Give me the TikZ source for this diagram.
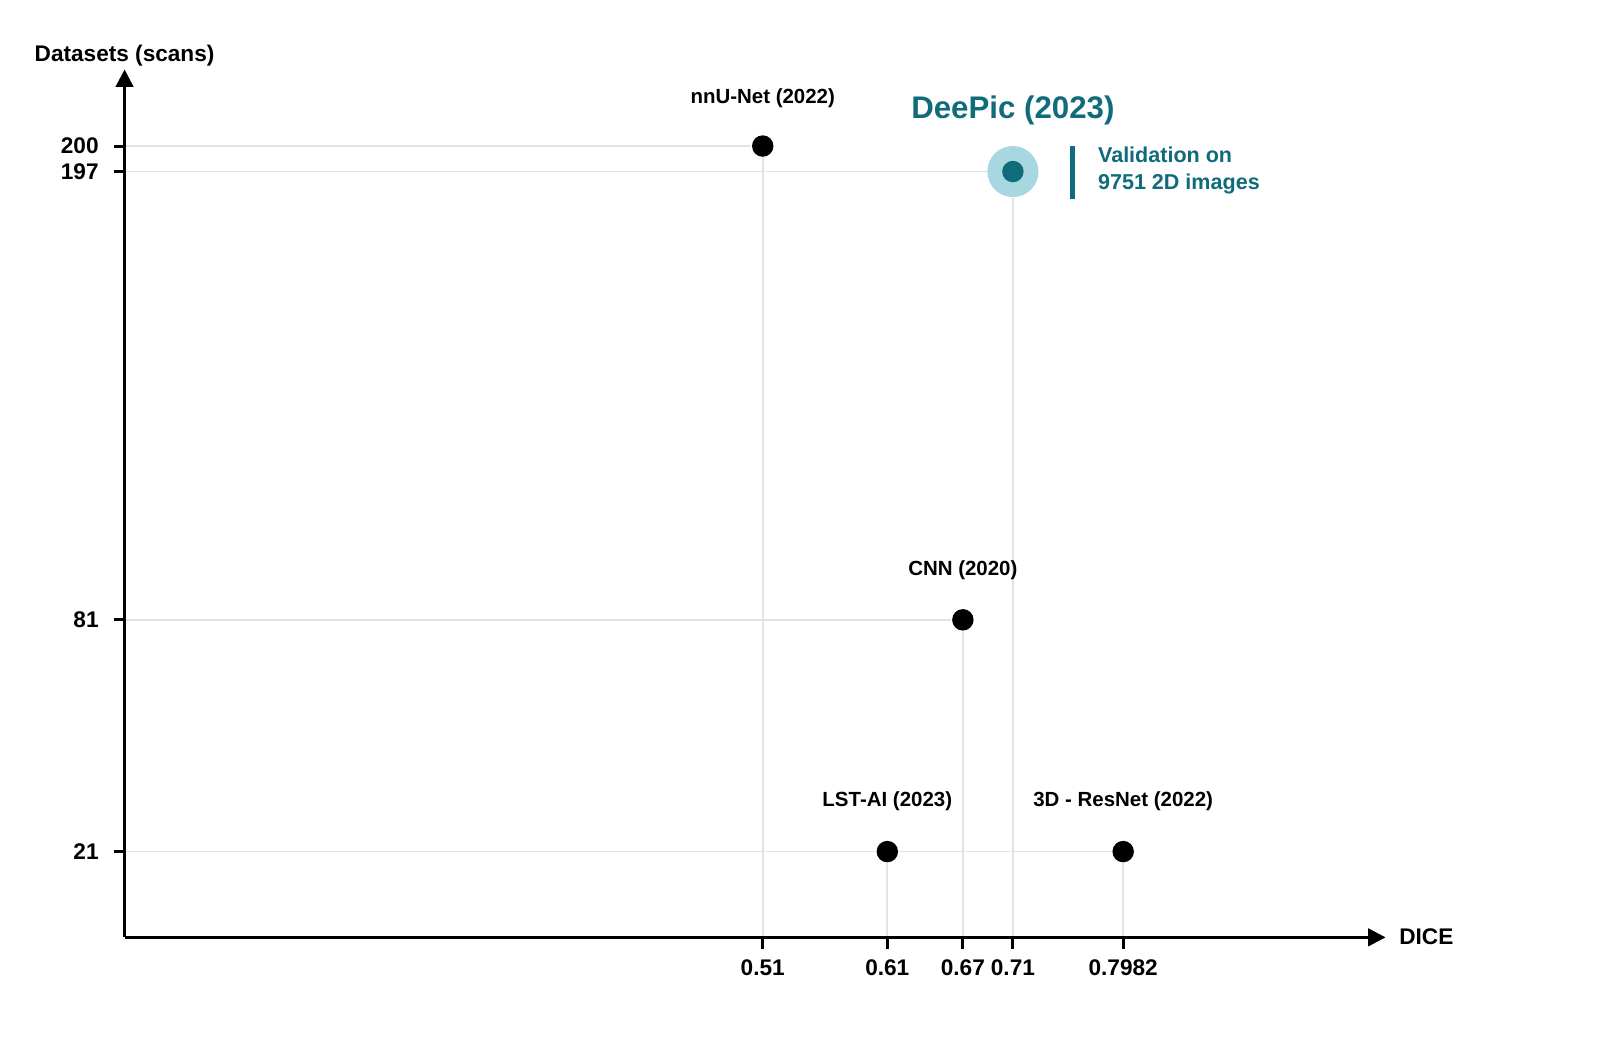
\documentclass[tikz,border=0pt]{standalone}
\usepackage{fontspec}
\setmainfont{Liberation Sans}
\usetikzlibrary{arrows.meta}
\definecolor{deep}{HTML}{106B7B}
\definecolor{deeplight}{HTML}{A7D7E0}
\definecolor{gridgray}{HTML}{E3E3E3}
\tikzset{
  axis/.style={line width=0.85pt, -{Triangle[length=0.17cm, width=0.17cm]}},
  tick/.style={line width=0.85pt},
  gridline/.style={gridgray, line width=0.5pt},
  dot/.style={circle, inner sep=0pt, minimum size=0.21cm, fill},
  ptlabel/.style={font=\bfseries\fontsize{5.7pt}{6.8pt}\selectfont},
  axlabel/.style={font=\bfseries\fontsize{6.3pt}{7.5pt}\selectfont}
}
\begin{document}
\begin{tikzpicture}[x=0.01cm, y=-0.01cm]
\useasboundingbox (0,0) rectangle (1567,1025.4);
% axes
\coordinate (org) at (122,918);
\coordinate (ytop) at (122,68);
\coordinate (xend) at (1357,918);
\coordinate (y0) at (122,143);
\coordinate (y1) at (122,168);
\coordinate (y2) at (122,607);
\coordinate (y3) at (122,834);
\coordinate (x0) at (747,918);
\coordinate (x1) at (869,918);
\coordinate (x2) at (943,918);
\coordinate (x3) at (992,918);
\coordinate (x4) at (1100,918);
% points
\node[circle, inner sep=0pt, minimum size=0.5cm, fill=deeplight] (tid1) at (992,168){};
\node[dot] (tid0) at (747,143){};
\node[dot, deep] (tid1c) at (992,168){};
\node[dot] (tid2) at (943,607){};
\node[dot] (tid3) at (869,834){};
\node[dot] (tid4) at (1100,834){};
\draw[gridline](tid0) -- (y0);
\draw[gridline](tid0) -- (x0);
\draw[gridline](tid1) -- (y1);
\draw[gridline](tid1) -- (x3);
\draw[gridline](tid2) -- (y2);
\draw[gridline](tid2) -- (x2);
\draw[gridline](tid3) -- (y3);
\draw[gridline](tid3) -- (x1);
\draw[gridline](tid4) -- (tid3);
\draw[gridline](tid4) -- (x4);
\draw[axis](org) -- (ytop);
\draw[axis](org) -- (xend);
\foreach \t in {y0,y1,y2,y3} \draw[tick](\t) -- ++(-10,0);
\foreach \t in {x0,x1,x2,x3,x4} \draw[tick](\t) -- ++(0,11);
% tick labels
\node[axlabel, anchor=east] (ylab0) at (109,143){200};
\node[axlabel, anchor=east] (ylab1) at (109,168){197};
\node[axlabel, anchor=east] (ylab2) at (109,607){81};
\node[axlabel, anchor=east] (ylab3) at (109,834){21};
\node[axlabel] (xlab0) at (747,948){0.51};
\node[axlabel] (xlab1) at (869,948){0.61};
\node[axlabel] (xlab2) at (943,948){0.67};
\node[axlabel] (xlab3) at (992,948){0.71};
\node[axlabel] (xlab4) at (1100,948){0.7982};
\node[axlabel] (ytitle) at (122,54){Datasets (scans)};
\node[axlabel, anchor=west] (xtitle) at (1358,917){DICE};
% point labels
\node[ptlabel] (lab0) at (747,96){nnU-Net (2022)};
\node[ptlabel] (lab2) at (943,558){CNN (2020)};
\node[ptlabel] (lab3) at (869,785){LST-AI (2023)};
\node[ptlabel] (lab4) at (1100,785){3D - ResNet (2022)};
\node[deep, font=\bfseries\fontsize{8.7pt}{10pt}\selectfont] (lab1) at (992,108){DeePic (2023)};
\coordinate (bartop) at (1050,143);
\coordinate (barbot) at (1050,195);
\draw[deep, line width=1.4pt](bartop) -- (barbot);
\node[deep, anchor=west, align=left, font=\bfseries\fontsize{6pt}{7.4pt}\selectfont] (note) at (1063,167){Validation on\\9751 2D images};
\end{tikzpicture}
\end{document}
